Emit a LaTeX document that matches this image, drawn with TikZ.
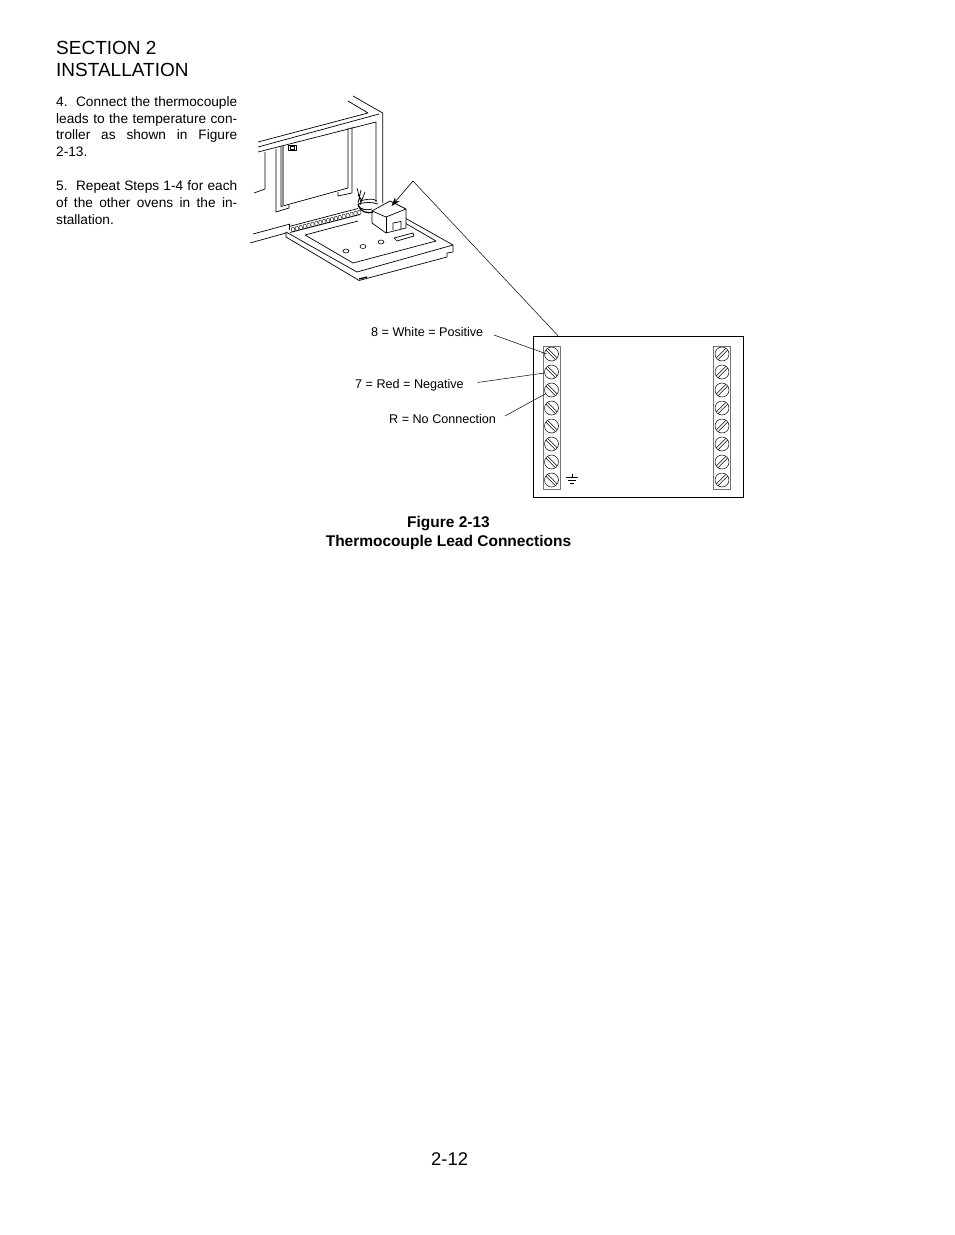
\documentclass[tikz,border=0pt]{standalone}
\usepackage{fontspec}
\setmainfont{Liberation Sans}
\usetikzlibrary{calc, positioning, arrows.meta}
\begin{document}
\begin{tikzpicture}[x=1pt, y=-1pt,
            headnode/.style={anchor=base west, inner sep=0pt, font=\fontsize{19}{22}\selectfont},
            pagenode/.style={anchor=base west, inner sep=0pt, font=\fontsize{18.4}{22}\selectfont},
            bodynode/.style={anchor=base west, inner sep=0pt, font=\fontsize{13.65}{16}\selectfont},
            labelnode/.style={anchor=base west, inner sep=0pt, font=\fontsize{12.6}{15}\selectfont},
            capnode/.style={anchor=base, inner sep=0pt, font=\bfseries\fontsize{15.5}{18}\selectfont},
            screwnode/.style={circle, draw=black, line width=0.5pt, minimum size=14pt, inner sep=0pt},
            stripbox/.style={rectangle, draw=black!55, line width=0.9pt, minimum width=17pt, minimum height=143pt, inner sep=0pt},
            oven/.style={line width=0.7pt, line join=round},
            ]
            \useasboundingbox (0,0) rectangle (954,1235);
            %Text
            \node[headnode] (title1) at (56,54.5) {SECTION 2};
            \node[headnode] (title2) at (56,76) {INSTALLATION};
            \node[bodynode] (step1a) at (56,106) {\hbox to 181pt{4.\ \ Connect the thermocouple}};
            \node[bodynode] (step1b) at (56,123) {\hbox to 181pt{leads to the temperature con-}};
            \node[bodynode] (step1c) at (56,139.5) {\hbox to 181pt{troller as shown in Figure}};
            \node[bodynode] (step1d) at (56,156) {2-13.};
            \node[bodynode] (step2a) at (56,190) {\hbox to 181pt{5.\ \ Repeat Steps 1-4 for each}};
            \node[bodynode] (step2b) at (56,207) {\hbox to 181pt{of the other ovens in the in-}};
            \node[bodynode] (step2c) at (56,224) {stallation.};
            \node[capnode] (figline1) at (448.5,527) {Figure 2-13};
            \node[capnode] (figline2) at (448.5,546) {Thermocouple Lead Connections};
            \node[pagenode] (pagenum) at (431,1165) {2-12};

            %Oven
            \draw[oven] (353,96) -- (382.7,113) -- (382.7,203);
            \draw[oven] (348,101) -- (368,113) -- (258,142);
            \draw[oven] (379,114) -- (258,147);
            \draw[oven] (258,152) -- (376,122) -- (376,202);
            \draw[oven] (276,149) -- (276,212) -- (289,208) -- (289,205);
            \draw[oven] (265,152) -- (265,189) -- (254,193);
            \draw[oven] (281,146) -- (281,206.5) -- (348,188) -- (348,128);
            \draw[black!45, line width=1.4pt] (283,146) -- (283,205.5);
            \draw[oven] (352,127) -- (352,193) -- (338,196) -- (338,192);
            \draw[oven] (288,145) rectangle (296,150.5);
            \draw[oven, line width=0.4pt] (290,146) rectangle (294,149.5);

            %Sill
            \draw[oven] (253,234) -- (290,224);
            \draw[oven] (250,243) -- (286,233);
            \draw[oven] (289,226.5) -- (358,208.5);
            \draw[oven] (290,232.5) -- (360,214.5);
            \draw[oven] (289,224) -- (289,230);
            \foreach \i in {0,...,17}
                \draw[line width=0.4pt] ({293+\i*3.9},{229.5-\i}) ellipse (1.7pt and 2.4pt);

            %Board
            \draw[oven] (286,232) -- (286,237) -- (355,278);
            \draw[oven] (286,232) -- (357,272) -- (453,245) -- (405,218);
            \draw[oven] (355,278) -- (359,280.5) -- (447,257) -- (447,253) -- (453,252) -- (453,245);
            \draw[oven] (305,235) -- (353,263) -- (436,241) -- (405,223);
            \draw[oven] (305,235) -- (358,221);
            \draw[line width=1.3pt] (359,279) -- (367,277);
            \draw[oven] (394,238) -- (413,233) -- (414,236) -- (397,241) -- cycle;
            \draw[oven, line width=0.6pt] (346,251) ellipse (3pt and 2pt);
            \draw[oven, line width=0.6pt] (363,246.5) ellipse (3pt and 2pt);
            \draw[oven, line width=0.6pt] (381,242) ellipse (3pt and 2pt);

            %Block and wires
            \draw[oven, fill=white] (372,211) -- (390,201) -- (406,209) -- (406,228) -- (386,233) -- (372,223) -- cycle;
            \draw[oven] (372,211) -- (386,217) -- (406,209);
            \draw[black!40, line width=0.8pt] (386.8,217) -- (386.8,233);
            \draw[oven] (386,217) -- (386,233);
            \draw[oven] (393,230) -- (393,223) -- (401,221.5) -- (401,229);
            \draw[line width=0.7pt] (357,188) -- (361,203) (361,190) -- (358,203) (365,192) -- (360,205) (358,195) -- (362,200);
            \draw[line width=1.2pt] (358,204) .. controls (360,212) and (367,214) .. (373,212);
            \draw[line width=0.8pt] (358,206) .. controls (361,209) and (366,211) .. (372,209);
            \draw[line width=0.8pt] (358,204) .. controls (366,202) and (372,202) .. (378,204);
            \draw[line width=0.7pt] (360,201) .. controls (367,199) and (373,198) .. (377,201);

            %Terminal block
            \node[rectangle, draw=black, line width=1pt, minimum width=210.5pt, minimum height=161pt, inner sep=0pt] (termbox) at (638.5,416.7) {};
            \node[stripbox] (leftstrip) at (551.8,417.5) {};
            \node[stripbox] (rightstrip) at (721.8,417.5) {};
            \foreach \i in {1,...,8} {
                \node[screwnode] (ls\i) at (551.5,{354+(\i-1)*18}) {};
                \node[screwnode] (rs\i) at (722,{354+(\i-1)*18}) {};
                \draw[line width=0.5pt] ($(ls\i.center)+(-3.8,-5.6)$) -- ($(ls\i.center)+(5.6,3.8)$);
                \draw[line width=0.5pt] ($(ls\i.center)+(-5.6,-3.8)$) -- ($(ls\i.center)+(3.8,5.6)$);
                \draw[line width=0.5pt] ($(rs\i.center)+(3.8,-5.6)$) -- ($(rs\i.center)+(-5.6,3.8)$);
                \draw[line width=0.5pt] ($(rs\i.center)+(5.6,-3.8)$) -- ($(rs\i.center)+(-3.8,5.6)$);
            }
            %Ground
            \coordinate (gnd) at (572,477);
            \draw[line width=0.5pt] (gnd) -- ++(0,-3);
            \draw[line width=0.5pt] (566,477) -- (578,477) (568,480) -- (576,480) (570,483) -- (574,483);

            %Labels
            \node[labelnode] (white) at (371,336) {8 = White = Positive};
            \node[labelnode] (red) at (355,388) {7 = Red = Negative};
            \node[labelnode] (noconn) at (389,423) {R = No Connection};

            %Lines
            \coordinate (apex) at (413,181);
            \coordinate (whiteend) at (494,335);
            \coordinate (redend) at (477.5,382.5);
            \coordinate (noconnend) at (505,416);
            \draw[line width=0.5pt] (whiteend) -- ($(ls1.center)+(-4.8,0)$);
            \draw[line width=0.5pt] (redend) -- (ls2);
            \draw[line width=0.5pt] (noconnend) -- ($(ls3.center)+(-5.5,3.5)$);
            \draw[line width=0.5pt] (termbox.north) ++(-80.5,0) coordinate (boxtop) -- (apex);
            \draw[-{Stealth[length=9pt,width=6pt]}, line width=0.6pt] (apex) -- (391.5,206);
          \end{tikzpicture}
\end{document}
